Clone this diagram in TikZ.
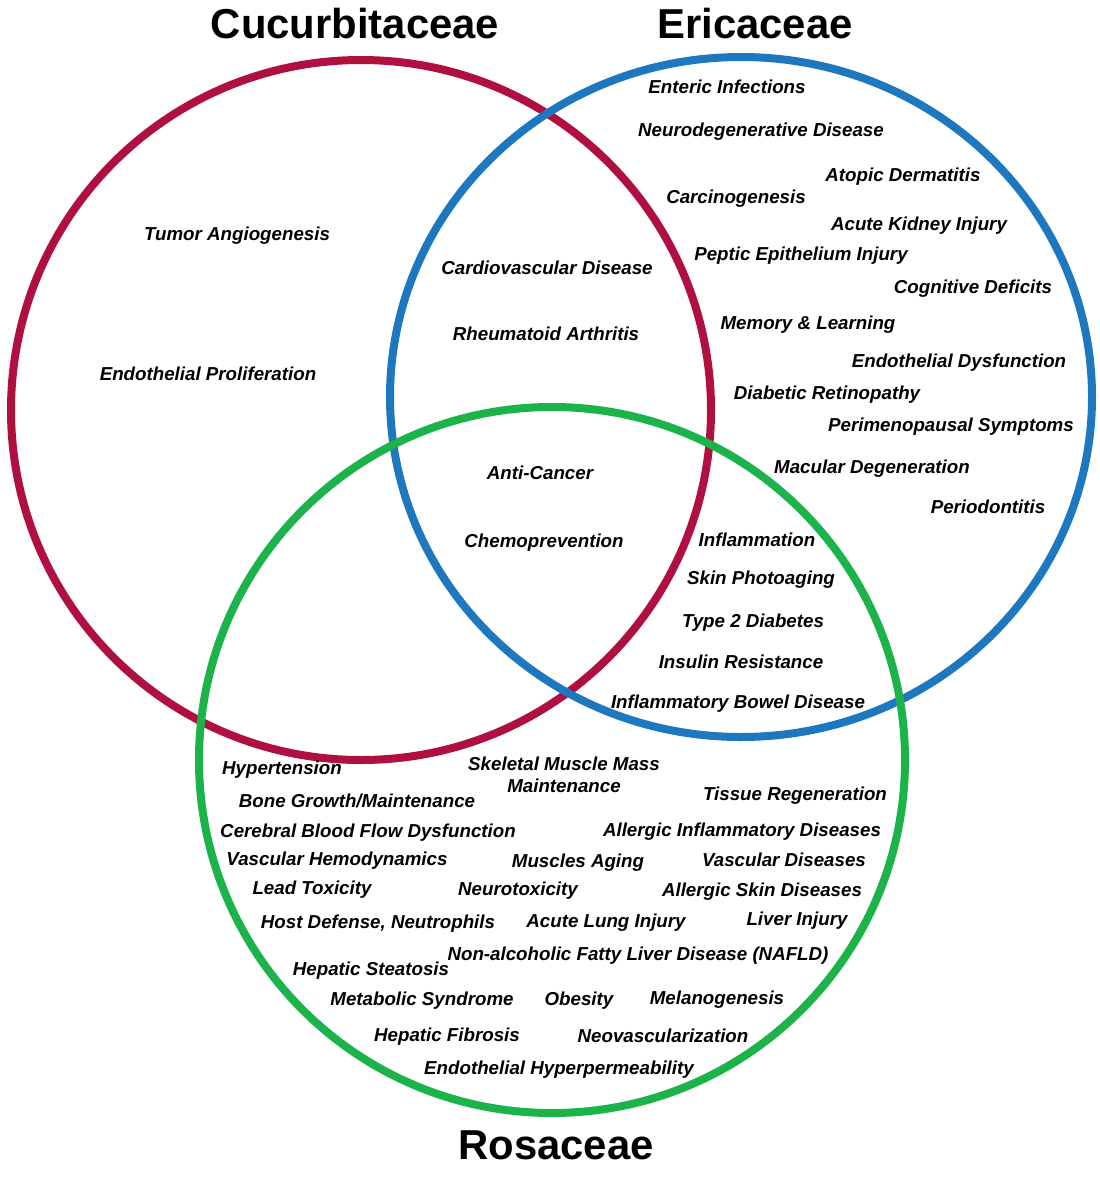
\documentclass[tikz,border=0pt]{standalone}
\usepackage{fontspec}
\setmainfont{Liberation Sans}
\begin{document}
\begin{tikzpicture}[x=1bp,y=-1bp,
 ring/.style={line width=8bp},
 lab/.style={font=\fontsize{18.8}{22}\selectfont\bfseries\itshape,inner sep=0pt,align=center},
 ttl/.style={font=\fontsize{42}{44}\selectfont\bfseries,inner sep=0pt}]
\definecolor{cred}{RGB}{176,16,64}
\definecolor{cblue}{RGB}{30,120,192}
\definecolor{cgreen}{RGB}{28,180,74}
\useasboundingbox (0,0) rectangle (1100,1180);
\draw[ring,cred] (361,410) circle (350);
\draw[ring,cblue] (741,397) circle[x radius=351,y radius=340];
\draw[ring,cgreen] (552,760) circle (353);
\node[ttl] (t1) at (355,24) {Cucurbitaceae};
\node[ttl] (t2) at (755,24) {Ericaceae};
\node[ttl] (t3) at (556,1145) {Rosaceae};
\foreach \n/\x/\y/\t in {
a1/727/87/{Enteric Infections},
a2/761/132/{Neurodegenerative Disease},
a3/903/177/{Atopic Dermatitis},
a4/736/199/{Carcinogenesis},
a5/919/226/{Acute Kidney Injury},
a6/801/256/{Peptic Epithelium Injury},
a7/973/289/{Cognitive Deficits},
a8/808/325/{Memory \& Learning},
a9/959/363/{Endothelial Dysfunction},
a10/827/395/{Diabetic Retinopathy},
a11/951/427/{Perimenopausal Symptoms},
a12/872/469/{Macular Degeneration},
a13/988/507/{Periodontitis},
b1/237/236/{Tumor Angiogenesis},
b2/208/374/{Endothelial Proliferation},
c1/547/268/{Cardiovascular Disease},
c2/546/334/{Rheumatoid Arthritis},
d1/540/473/{Anti-Cancer},
d2/544/543/{Chemoprevention},
e1/757/540/{Inflammation},
e2/761/580/{Skin Photoaging},
e3/753/623/{Type 2 Diabetes},
e4/741/662/{Insulin Resistance},
e5/738/704/{Inflammatory Bowel Disease},
g1/282/770/{Hypertension},
g2/564/775/{Skeletal Muscle Mass\\Maintenance},
g3/357/801/{Bone Growth/Maintenance},
g4/795/796/{Tissue Regeneration},
g5/368/833/{Cerebral Blood Flow Dysfunction},
g6/742/832/{Allergic Inflammatory Diseases},
g7/337/861/{Vascular Hemodynamics},
g8/578/863/{Muscles Aging},
g9/784/860/{Vascular Diseases},
g10/312/890/{Lead Toxicity},
g11/518/891/{Neurotoxicity},
g12/762/892/{Allergic Skin Diseases},
g13/378/924/{Host Defense, Neutrophils},
g14/606/923/{Acute Lung Injury},
g15/797/921/{Liver Injury},
g16/638/956/{Non-alcoholic Fatty Liver Disease (NAFLD)},
g17/371/971/{Hepatic Steatosis},
g18/422/1001/{Metabolic Syndrome},
g19/579/1001/{Obesity},
g20/717/1000/{Melanogenesis},
g21/447/1037/{Hepatic Fibrosis},
g22/663/1036/{Neovascularization},
g23/559/1070/{Endothelial Hyperpermeability}}
 {\node[lab] (\n) at (\x,\y) {\t};}
\end{tikzpicture}
\end{document}
